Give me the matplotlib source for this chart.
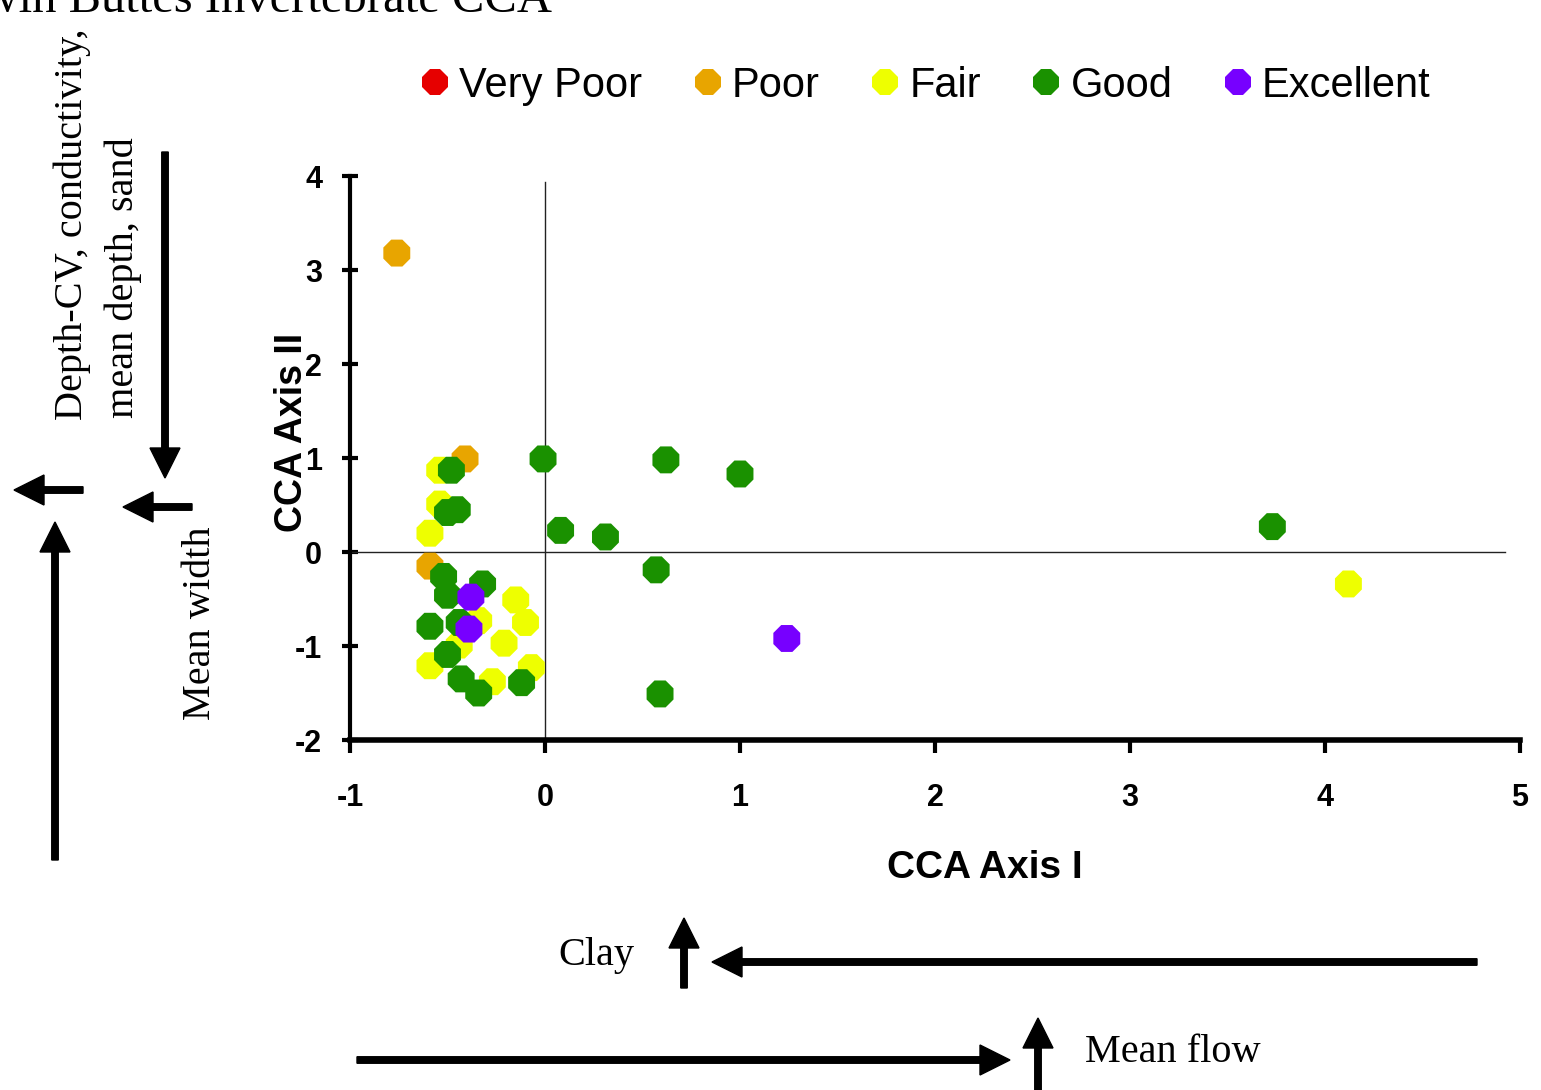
import matplotlib
matplotlib.use('Agg')
import matplotlib.pyplot as plt
from matplotlib.patches import FancyArrow
from matplotlib.lines import Line2D
from matplotlib.transforms import Affine2D

plt.rcParams['font.family'] = ['Liberation Sans', 'DejaVu Sans']
plt.rcParams['axes.unicode_minus'] = False

W, H = 1541, 1090

# ---------------- data ----------------
categories = ['Very Poor', 'Poor', 'Fair', 'Good', 'Excellent']
colors = ['#E60000', '#E8A500', '#EEFF00', '#1A9100', '#7700FF']

very_poor_x = []
very_poor_y = []
poor_x = [-0.76, -0.41, -0.59]
poor_y = [3.18, 0.99, -0.15]
fair_x = [-0.54, -0.54, -0.59, -0.15, -0.34, -0.10, -0.44, -0.21, -0.59, -0.27, -0.07, 4.12]
fair_y = [0.87, 0.51, 0.20, -0.51, -0.73, -0.75, -0.99, -0.97, -1.21, -1.38, -1.23, -0.34]
good_x = [-0.48, -0.01, -0.50, -0.45, 0.08, 0.31, 0.62, 1.00, 0.57, 0.59, 3.73,
          -0.52, -0.32, -0.50, -0.44, -0.59, -0.50, -0.43, -0.34, -0.12]
good_y = [0.87, 0.99, 0.42, 0.45, 0.23, 0.16, 0.98, 0.83, -0.19, -1.51, 0.27,
          -0.26, -0.34, -0.46, -0.75, -0.79, -1.09, -1.35, -1.50, -1.39]
excellent_x = [-0.38, -0.39, 1.24]
excellent_y = [-0.48, -0.82, -0.92]

x_ticks = [-1, 0, 1, 2, 3, 4, 5]
y_ticks = [-2, -1, 0, 1, 2, 3, 4]

title = 'Twin Buttes Invertebrate CCA'
x_label = 'CCA Axis I'
y_label = 'CCA Axis II'

series_x = [very_poor_x, poor_x, fair_x, good_x, excellent_x]
series_y = [very_poor_y, poor_y, fair_y, good_y, excellent_y]

# ---------------- figure ----------------
fig = plt.figure(figsize=(W / 100, H / 100), dpi=100)
px = Affine2D().scale(1, -1).translate(0, H)  # pixel coords measured from top-left


def fx(x):
    return x / W


def fy(y):
    return 1 - y / H


ax = fig.add_axes([fx(350), fy(740), 1170 / W, 564 / H])
ax.set_xlim(-1, 5)
ax.set_ylim(-2, 4)

for i, (xs, ys, c) in enumerate(zip(series_x, series_y, colors)):
    if len(xs) == 0:
        continue
    ax.scatter(xs, ys, s=440, marker='8', color=c, edgecolors='none', zorder=3 + i, clip_on=False)

ax.axvline(0, ymax=0.99, color='#222222', lw=1.0, zorder=2)
ax.axhline(0, xmax=0.987, color='#222222', lw=1.0, zorder=2)

for s in ['top', 'right']:
    ax.spines[s].set_visible(False)
ax.spines['left'].set_linewidth(3)
ax.spines['bottom'].set_linewidth(4)

ax.set_xticks(x_ticks)
ax.set_yticks(y_ticks)
ax.tick_params(axis='y', direction='inout', length=12, width=3, pad=14, labelsize=22)
ax.tick_params(axis='x', direction='out', length=9, width=3, pad=22, labelsize=22)
for lab in ax.get_xticklabels() + ax.get_yticklabels():
    lab.set_fontweight('bold')

fig.text(fx(985), fy(868), x_label, ha='center', va='center', fontsize=28, fontweight='bold')
fig.text(fx(292), fy(432), y_label, ha='center', va='center', rotation=90, fontsize=27, fontweight='bold')

# legend
handles = [Line2D([], [], marker='8', ls='', color=c, markersize=20, markeredgewidth=0) for c in colors]
fig.legend(handles, categories, ncol=5, loc='center', bbox_to_anchor=(fx(927), fy(86)),
           frameon=False, fontsize=30, handlelength=0.55, handletextpad=0.3, columnspacing=1.3)

# title (cropped at top)
fig.text(fx(552), fy(12), title, ha='right', va='baseline', fontsize=35, family='Liberation Serif')

serif = dict(family='Liberation Serif', fontsize=29)
fig.text(fx(72), fy(420), 'Depth-CV, conductivity,', rotation=90, ha='center', va='bottom', **serif)
fig.text(fx(123), fy(418), 'mean depth, sand', rotation=90, ha='center', va='bottom', **serif)
fig.text(fx(200), fy(720), 'Mean width', rotation=90, ha='center', va='bottom', **serif)
fig.text(fx(558), fy(955), 'Clay', ha='left', va='center', **serif)
fig.text(fx(1085), fy(1053), 'Mean flow', ha='left', va='center', **serif)

# environmental arrows (x, y, dx, dy) in pixels from top-left
arrows = [
    (55, 860, 0, -338),     # long up arrow
    (83, 490, -69, 0),      # left arrow 1
    (192, 507, -69, 0),     # left arrow 2
    (165, 152, 0, 326),     # down arrow
    (684, 988, 0, -70),     # clay up
    (1477, 962, -765, 0),   # long left
    (357, 1060, 653, 0),    # long right
    (1038, 1095, 0, -77),   # mean flow up
]
for x, y, dx, dy in arrows:
    fig.add_artist(FancyArrow(x, y, dx, dy, width=6.5, head_width=30, head_length=30,
                              length_includes_head=True, color='black', transform=px))

fig.savefig('out.png', dpi=100)
